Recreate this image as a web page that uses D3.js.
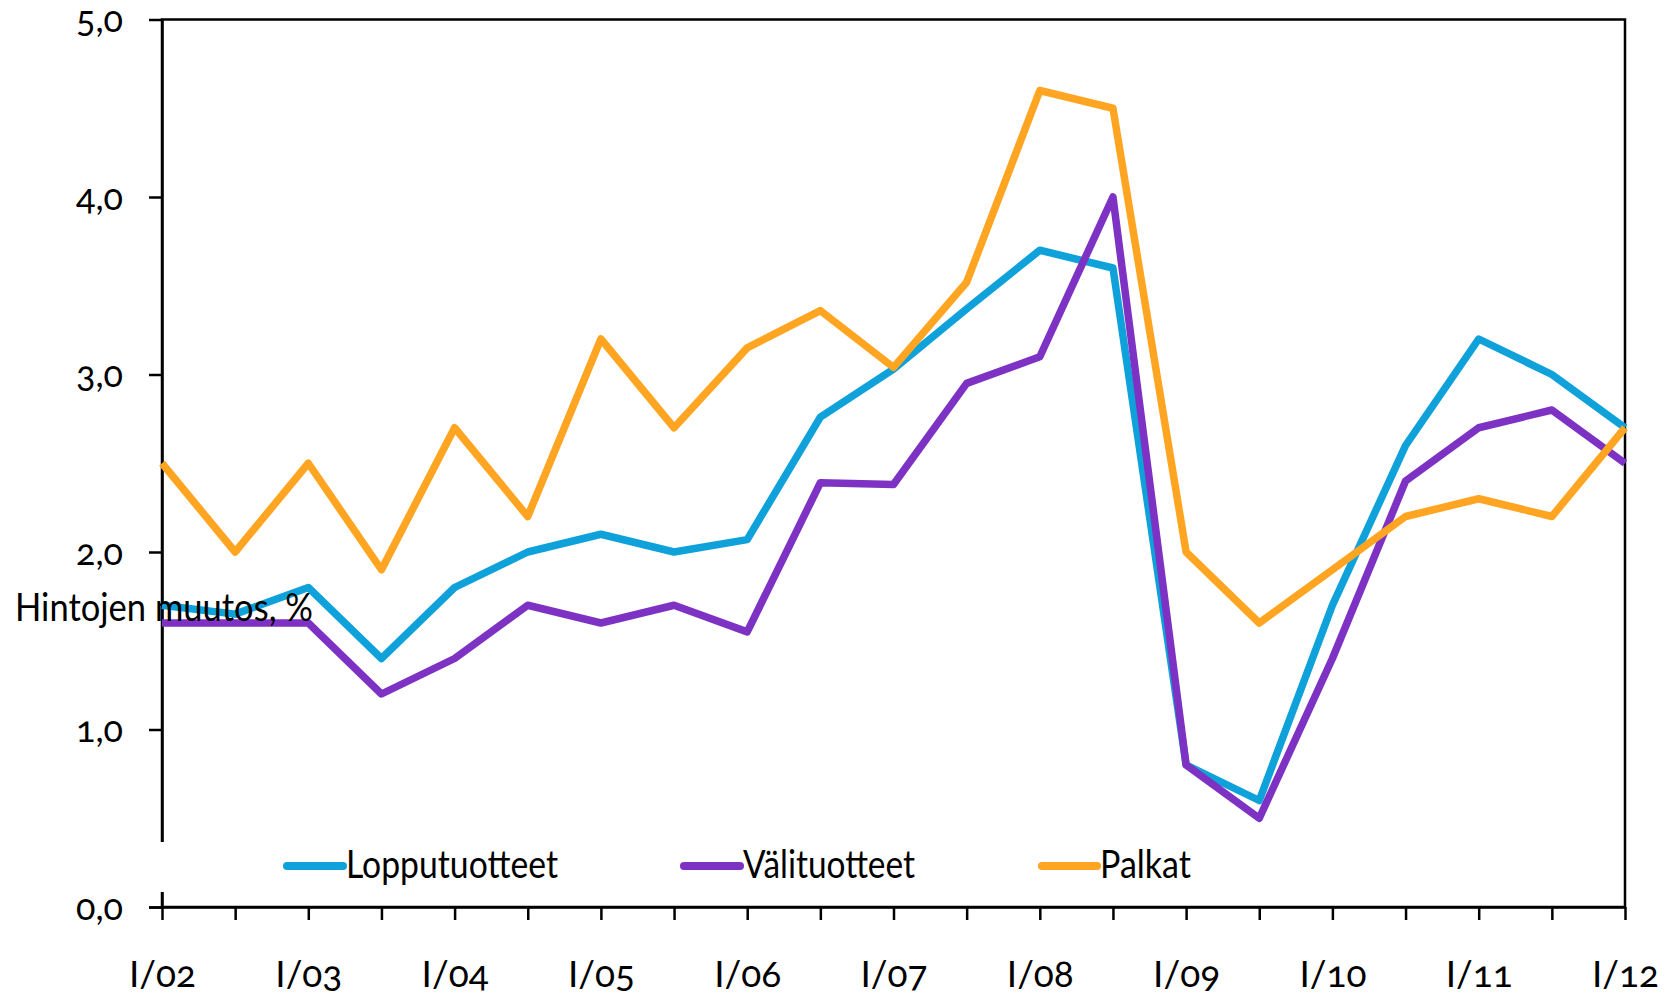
<!DOCTYPE html>
<html>
<head>
<meta charset="utf-8">
<script src="https://cdn.jsdelivr.net/npm/d3@7"></script>
<style>
  body { margin: 0; background: #fff; }
  svg text { font-family: Lato, "Open Sans", sans-serif; font-variant-numeric: oldstyle-nums; fill: #000; }
</style>
</head>
<body>
<svg id="chart"></svg>
<script>
const periods = ["I/02","III/02","I/03","III/03","I/04","III/04","I/05","III/05","I/06","III/06",
  "I/07","III/07","I/08","III/08","I/09","III/09","I/10","III/10","I/11","III/11","I/12"];

const lopputuotteet = [1.7,1.65,1.8,1.4,1.8,2.0,2.1,2.0,2.07,2.76,3.03,3.37,3.7,3.6,0.8,0.6,1.7,2.6,3.2,3.0,2.7];
const valituotteet  = [1.6,1.6,1.6,1.2,1.4,1.7,1.6,1.7,1.55,2.39,2.38,2.95,3.1,4.0,0.8,0.5,1.4,2.4,2.7,2.8,2.5];
const palkat        = [2.5,2.0,2.5,1.9,2.7,2.2,3.2,2.7,3.15,3.36,3.04,3.52,4.6,4.5,2.0,1.6,1.9,2.2,2.3,2.2,2.7];

const seriesNames  = ["Lopputuotteet","Välituotteet","Palkat"];
const seriesColors = ["#0fa1da","#7d32c3","#ffa522"];
const yTicks = [0,1,2,3,4,5];

const W = 1670, H = 997;
const svg = d3.select("#chart").attr("width", W).attr("height", H);

const x = d3.scaleLinear().domain([0, periods.length - 1]).range([162, 1625]);
const y = d3.scaleLinear().domain([0, 5]).range([907, 19.5]);

// frame (top + right)
svg.append("rect")
  .attr("x", x(0)).attr("y", y(5))
  .attr("width", x(20) - x(0)).attr("height", y(0) - y(5))
  .attr("fill", "none").attr("stroke", "#000").attr("stroke-width", 2.5);

const fmt = d => d.toFixed(1).replace(".", ",");

const yAxis = svg.append("g")
  .attr("transform", `translate(${x(0)},0)`)
  .call(d3.axisLeft(y).tickValues(yTicks).tickFormat(fmt).tickSize(13).tickSizeOuter(0));
yAxis.selectAll("line, path").attr("stroke", "#000").attr("stroke-width", 2.5);
yAxis.selectAll("text")
  .attr("x", -39).attr("dy", 0).attr("y", 12)
  .style("font-size", "36px");

const xAxis = svg.append("g")
  .attr("transform", `translate(0,${y(0)})`)
  .call(d3.axisBottom(x).tickValues(d3.range(periods.length))
    .tickFormat(i => periods[i].startsWith("I/") ? periods[i] : "")
    .tickSize(13).tickSizeOuter(0));
xAxis.select("path").attr("d", `M${x(0) - 13},0.5H${x(20)}`);
xAxis.selectAll("line, path").attr("stroke", "#000").attr("stroke-width", 2.5);
xAxis.selectAll("text")
  .attr("y", 80).attr("dy", 0)
  .style("font-size", "37px");

// legend box hides part of the y axis
svg.append("rect")
  .attr("x", 155).attr("y", 842).attr("width", 1080).attr("height", 50)
  .attr("fill", "#fff");

const allSeries = [lopputuotteet, valituotteet, palkat];
const line = d3.line().x((d, i) => x(i)).y(d => y(d));

allSeries.forEach((s, k) => {
  svg.append("path")
    .datum(s)
    .attr("d", line)
    .attr("fill", "none")
    .attr("stroke", seriesColors[k])
    .attr("stroke-width", 7.5)
    .attr("stroke-linejoin", "round");
});

// legend
const legendX = [[287, 343], [684, 740], [1042, 1097]];
const legendW = [212, 172, 91];
seriesNames.forEach((name, k) => {
  svg.append("line")
    .attr("x1", legendX[k][0]).attr("x2", legendX[k][1])
    .attr("y1", 866).attr("y2", 866)
    .attr("stroke", seriesColors[k]).attr("stroke-width", 8)
    .attr("stroke-linecap", "round");
  svg.append("text")
    .attr("x", legendX[k][1] + 3).attr("y", 878)
    .attr("textLength", legendW[k]).attr("lengthAdjust", "spacingAndGlyphs")
    .style("font-size", "38px")
    .text(name);
});

svg.append("text")
  .attr("x", 15).attr("y", 621)
  .attr("textLength", 298).attr("lengthAdjust", "spacingAndGlyphs")
  .style("font-size", "38px")
  .text("Hintojen muutos, %");
</script>
</body>
</html>
